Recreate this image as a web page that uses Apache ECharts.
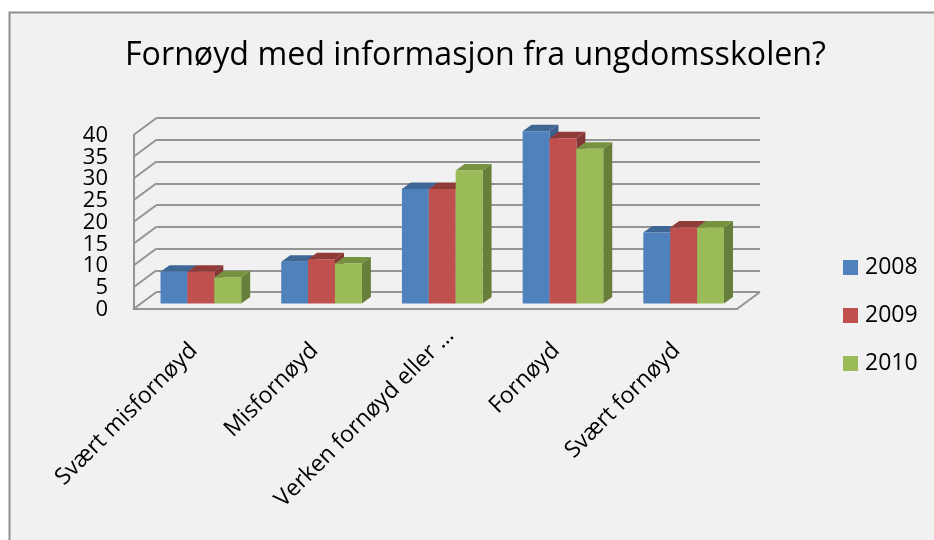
<!DOCTYPE html>
<html><head><meta charset="utf-8">
<style>html,body{margin:0;padding:0;background:#fff}#c{width:934px;height:540px}</style>
<script src="https://cdn.jsdelivr.net/npm/echarts@6/dist/echarts.min.js"></script>
</head><body><div id="c"></div>
<script>
const categories = ['Svært misfornøyd','Misfornøyd','Verken fornøyd eller …','Fornøyd','Svært fornøyd'];
const years = ['2008','2009','2010'];
const values2008 = [7.3, 9.6, 26.3, 39.6, 16.3];
const values2009 = [7.3, 10.2, 26.3, 38.0, 17.5];
const values2010 = [6.0, 9.2, 30.6, 35.6, 17.5];
const ticks = [0,5,10,15,20,25,30,35,40];

const FONT = '"Open Sans", sans-serif';
const GREY = '#949494';
const LW = 2;
const front = ['#4f81bd','#c0504d','#9bbb59'];
const tops  = ['#3e6796','#8f3b39','#76923e'];
const sides = ['#3a5f8c','#853634','#677f3a'];
// oblique projection constants (px)
const WALL = [23,-17], BAR_OFF = [7,-5.5], BAR_DEPTH = [9,-6.5], BAR_RATIO = 0.2227;

function barRender(si){
  return function(params, api){
    const cat = api.value(0), v = api.value(1);
    const band = api.size([1,0])[0], w = band*BAR_RATIO;
    const c0 = api.coord([cat,0]), c1 = api.coord([cat,v]);
    const xl = c0[0] + BAR_OFF[0] + (si-1.5)*w, xr = xl + w;
    const yb = c0[1] + BAR_OFF[1], yt = c1[1] + BAR_OFF[1];
    const dx = BAR_DEPTH[0], dy = BAR_DEPTH[1];
    return {type:'group', children:[
      {type:'polygon', shape:{points:[[xr,yb],[xr+dx,yb+dy],[xr+dx,yt+dy],[xr,yt]]}, style:{fill:sides[si]}},
      {type:'polygon', shape:{points:[[xl,yt],[xl+dx,yt+dy],[xr+dx,yt+dy],[xr,yt]]}, style:{fill:tops[si]}},
      {type:'rect', shape:{x:xl,y:yt,width:w,height:yb-yt}, style:{fill:front[si]}}
    ]};
  };
}
// diagonals on the side wall, plus the tick labels (drawn here so that tightly packed labels all stay visible)
function diagRender(params, api){
  const v = api.value(0), cs = params.coordSys;
  const p = api.coord([0,v]);
  const x = cs.x, y = p[1];
  const lineStyle = {stroke:GREY, lineWidth:LW, fill:null};
  const kids = [
    {type:'line', shape:{x1:x,y1:y,x2:x+WALL[0],y2:y+WALL[1]}, style:lineStyle},
    {type:'text', style:{text:String(v), x:x-25.5, y:y+0.5, textAlign:'right', textVerticalAlign:'middle',
      fontFamily:FONT, fontSize:22, fill:'#000'}}
  ];
  if (v === 0) kids.push({type:'line', shape:{x1:x+cs.width,y1:y,x2:x+cs.width+WALL[0],y2:y+WALL[1]}, style:lineStyle});
  return {type:'group', children:kids};
}

const L=133.5, R=737, T=135, B=309;
const series = [
  {type:'custom', name:'walls', xAxisIndex:0, yAxisIndex:0, coordinateSystem:'cartesian2d',
   data:ticks.map(t=>[t]), encode:{y:0}, renderItem:diagRender, silent:true, z:2, clip:false}
];
[values2008,values2009,values2010].forEach((vals,si)=>{
  series.push({type:'custom', name:years[si], xAxisIndex:0, yAxisIndex:0, coordinateSystem:'cartesian2d',
    data:vals.map((v,i)=>[i,v]), encode:{x:0,y:1}, renderItem:barRender(si), clip:false, z:3+si,
    itemStyle:{color:front[si]}});
});

const chart = echarts.init(document.getElementById('c'), null, {renderer:'canvas'});
chart.setOption({
  animation:false,
  backgroundColor:'#ffffff',
  graphic:[{type:'rect', z:-10, silent:true, shape:{x:9.5,y:12.5,width:940,height:540},
    style:{fill:'#f1f1f1', stroke:'#8f8f8f', lineWidth:2}}],
  title:{text:'Fornøyd med informasjon fra ungdomsskolen?', left:120, top:35,
    textStyle:{fontFamily:FONT, fontWeight:'normal', fontSize:32.2, color:'#000'}},
  legend:{data:years, orient:'vertical', left:843, top:256, padding:0, itemWidth:15, itemHeight:15, itemGap:25, icon:'rect',
    textStyle:{fontFamily:FONT, fontSize:23, color:'#000', lineHeight:21, padding:[0,0,0,2]}, selectedMode:false},
  grid:[
    {left:L, top:T, width:R-L, height:B-T, containLabel:false},
    {left:L+WALL[0], top:T+WALL[1], width:R-L, height:B-T}
  ],
  xAxis:[
    {type:'category', gridIndex:0, data:categories, axisTick:{show:false},
     axisLine:{lineStyle:{color:GREY,width:LW}},
     axisLabel:{rotate:45, interval:0, margin:38, fontFamily:FONT, fontSize:23, color:'#000',
       formatter:(v,i)=> i===2 ? '{s|'+v+'}' : v,
       rich:{s:{width:221, align:'left', fontFamily:FONT, fontSize:23, color:'#000'}}}},
    {type:'category', gridIndex:1, data:categories, show:false}
  ],
  yAxis:[
    {type:'value', gridIndex:0, min:0, max:40, interval:5, splitLine:{show:false}, axisTick:{show:false},
     axisLine:{show:true, lineStyle:{color:GREY,width:LW}}, axisLabel:{show:false}},
    {type:'value', gridIndex:1, min:0, max:40, interval:5, axisLabel:{show:false}, axisTick:{show:false},
     axisLine:{show:false}, splitLine:{show:true, lineStyle:{color:GREY,width:LW}}}
  ],
  series
});
</script></body></html>
